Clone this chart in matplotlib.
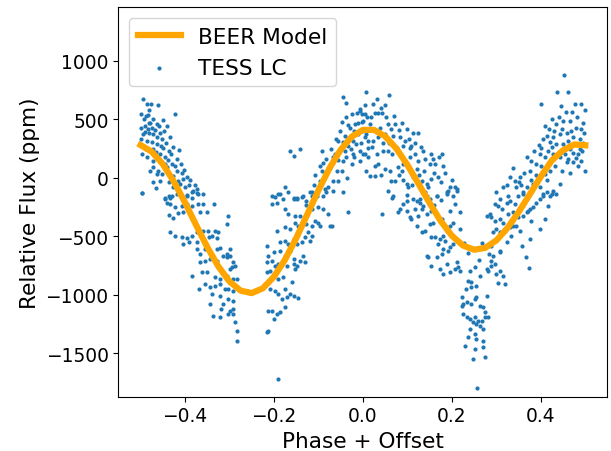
import numpy as np
import matplotlib
matplotlib.use('Agg')
import matplotlib.pyplot as plt

# BEER model
model_phase = [-0.500, -0.475, -0.450, -0.425, -0.400, -0.375, -0.350, -0.325, -0.300, -0.275,
               -0.250, -0.225, -0.200, -0.175, -0.150, -0.125, -0.100, -0.075, -0.050, -0.025,
               0.000, 0.025, 0.050, 0.075, 0.100, 0.125, 0.150, 0.175, 0.200, 0.225,
               0.250, 0.275, 0.300, 0.325, 0.350, 0.375, 0.400, 0.425, 0.450, 0.475, 0.500]
model_flux = [280, 224, 117, -33, -212, -405, -593, -759, -888, -966,
              -987, -946, -847, -700, -517, -313, -107, 83, 240, 352,
              410, 410, 355, 251, 110, -51, -217, -371, -496, -580,
              -616, -600, -536, -430, -294, -143, 10, 150, 235, 285, 278]

# TESS light curve points, read region by region
phase_a = [-0.495, -0.486, -0.476, -0.460, -0.480, -0.500, -0.488, -0.471, -0.450, -0.482,
           -0.490, -0.475, -0.464, -0.441, -0.422, -0.494, -0.482, -0.471, -0.456, -0.434,
           -0.486, -0.475, -0.464, -0.449, -0.437, -0.494, -0.497, -0.486, -0.471, -0.456,
           -0.445, -0.413, -0.471, -0.479, -0.460, -0.441, -0.430, -0.419, -0.407, -0.396,
           -0.452, -0.426, -0.497, -0.471, -0.456, -0.437, -0.426, -0.411, -0.400, -0.374,
           -0.370, -0.445, -0.434, -0.419, -0.396, -0.385]
flux_a = [672, 635, 630, 624, 578, 544, 530, 501, 493, 473,
          444, 430, 459, 444, 550, 373, 387, 373, 387, 345,
          316, 302, 288, 259, 231, 273, 202, 174, 145, 202,
          174, 236, 88, 60, 60, 88, 117, 60, 37, 3,
          31, 17, -131, -40, -26, -40, -83, -55, -83, -97,
          -140, -169, -169, -140, -155, -169]
phase_a2 = [-0.498, -0.492, -0.484, -0.478, -0.468, -0.462, -0.458, -0.452, -0.447, -0.443,
            -0.499, -0.491, -0.488, -0.483, -0.473, -0.466, -0.454, -0.446, -0.439, -0.432,
            -0.428, -0.423, -0.417, -0.409, -0.404, -0.402, -0.392, -0.388, -0.381, -0.377,
            -0.466, -0.462, -0.415]
flux_a2 = [430, 500, 540, 470, 410, 350, 440, 330, 400, 300,
           330, 390, 250, 420, 250, 220, 270, 120, 150, 200,
           260, 100, 160, 120, -10, 70, -60, -20, -110, -60,
           -90, 30, -30]

phase_b = [-0.497, -0.445, -0.437, -0.430, -0.396, -0.385, -0.374, -0.359,
           -0.441, -0.434, -0.422, -0.407, -0.396, -0.385, -0.370, -0.359, -0.334,
           -0.437, -0.426, -0.415, -0.404, -0.389, -0.381, -0.366, -0.351, -0.303,
           -0.434, -0.422, -0.407, -0.396, -0.385, -0.374, -0.359, -0.348, -0.333, -0.325, -0.306,
           -0.404, -0.392, -0.374, -0.347, -0.340, -0.329, -0.374, -0.366, -0.355, -0.344, -0.329,
           -0.321, -0.299, -0.314, -0.306, -0.299,
           -0.366, -0.355, -0.344, -0.329, -0.306, -0.291, -0.288, -0.299, -0.295,
           -0.385, -0.362, -0.351, -0.333, -0.321, -0.306, -0.291, -0.284,
           -0.355, -0.344, -0.333, -0.321, -0.310, -0.303, -0.291, -0.368,
           -0.340, -0.321, -0.314, -0.303, -0.291, -0.344,
           -0.318, -0.299, -0.291, -0.336, -0.321, -0.303, -0.291, -0.288, -0.284, -0.282]
flux_b = [-132, -183, -155, -160, -149, -126, -132, -140,
          -212, -226, -254, -240, -226, -240, -226, -226, -226,
          -320, -348, -303, -297, -311, -354, -297, -297, -326,
          -462, -502, -511, -519, -497, -468, -454, -454, -454, -468, -397,
          -568, -554, -554, -511, -497, -519, -611, -653, -611, -639, -611,
          -605, -611, -668, -653, -668,
          -725, -710, -696, -710, -682, -725, -753, -782, -767,
          -839, -810, -810, -853, -867, -839, -867, -867,
          -910, -938, -924, -910, -953, -953, -967, -953,
          -996, -1010, -1081, -1038, -1053, -1081,
          -1124, -1138, -1124, -1181, -1195, -1167, -1167, -1238, -1309, -1395]

phase_c = [-0.216, -0.213, -0.190,
           -0.213, -0.205, -0.201, -0.194, -0.186, -0.175,
           -0.209, -0.198, -0.190, -0.183, -0.171, -0.164, -0.156, -0.145,
           -0.216, -0.209, -0.201, -0.190, -0.179, -0.175, -0.160,
           -0.216, -0.205, -0.198, -0.190, -0.179, -0.171, -0.156, -0.153, -0.149,
           -0.213, -0.201, -0.186, -0.175, -0.164, -0.156, -0.142, -0.134, -0.130,
           -0.194, -0.186, -0.175, -0.168, -0.156, -0.149, -0.138, -0.130, -0.119, -0.115,
           -0.175, -0.164, -0.153, -0.145, -0.134, -0.127, -0.115, -0.108, -0.100, -0.097, -0.074, -0.123,
           -0.216,
           -0.205, -0.194, -0.175, -0.168, -0.153, -0.142, -0.130, -0.123, -0.115, -0.100, -0.089, -0.078, -0.070,
           -0.205, -0.190, -0.179, -0.168, -0.156, -0.149, -0.134, -0.127, -0.115, -0.104, -0.089, -0.082,
           -0.067, -0.044, -0.033]
flux_c = [-1323, -1309, -1723,
          -1138, -1138, -1209, -1167, -1152, -1110,
          -953, -967, -996, -1038, -1024, -996, -1010, -1030,
          -810, -796, -824, -867, -853, -953, -896,
          -725, -710, -753, -739, -710, -753, -739, -782, -753,
          -668, -639, -625, -668, -625, -696, -710, -668, -725,
          -454, -554, -539, -568, -525, -568, -554, -511, -539, -497,
          -425, -440, -383, -411, -383, -397, -411, -368, -383, -411, -411, -468,
          -582,
          -226, -212, -269, -311, -326, -326, -340, -297, -269, -254, -269, -311, -411,
          -155, -140, -183, -126, -177, -183, -155, -197, -126, -155, -155, -126,
          -112, -126, -297]

phase_d = [-0.198, -0.186, -0.175, -0.156, -0.149, -0.138, -0.115, -0.104, -0.085, -0.078, -0.097, -0.067, -0.059,
           -0.164, -0.156, -0.142, -0.093, -0.067, -0.044, -0.037, -0.025, -0.022, -0.007, 0.001, 0.012,
           -0.044, -0.037, -0.025, -0.014, -0.007, 0.008, -0.003, -0.029, -0.018, -0.052, -0.055,
           -0.044, -0.033, -0.022, -0.010, 0.001, 0.008, 0.012, -0.097, -0.093, -0.085, -0.055]
flux_d = [-168, -140, -83, -183, -175, -168, -155, -112, -97, -83, -26, -26, 60,
          231, 188, 245, 231, 174, 145, 174, 117, 202, 145, 202, 259,
          692, 644, 544, 558, 573, 730, 544, 430, 459, 402, 316,
          302, 273, 316, 373, 416, 402, 316, 102, 60, 31, -26]
phase_d2 = [-0.090, -0.082, -0.075, -0.071, -0.063, -0.060, -0.057, -0.050, -0.048, -0.041,
            -0.039, -0.034, -0.031, -0.027, -0.020, -0.016, -0.012, -0.005, -0.002, 0.004,
            0.010, -0.047, -0.040, -0.035, -0.019, -0.110, -0.120, -0.128, -0.107]
flux_d2 = [130, 160, 80, 250, 200, 330, 150, 250, 480, 360,
           520, 450, 330, 250, 400, 290, 470, 300, 480, 350,
           520, 60, 230, 0, 180, -60, -120, -230, 20]

phase_e = [0.023, 0.032, 0.050, 0.059, 0.027, 0.035, 0.044, 0.004, -0.007, 0.001, 0.016, 0.038, 0.057, 0.072,
           -0.003, 0.008, 0.023, 0.035, 0.050, 0.068, 0.083, 0.094, 0.113,
           -0.007, 0.004, 0.012, 0.031, 0.046, 0.057, 0.065, 0.076, 0.091, 0.106, 0.109,
           0.035, 0.050, 0.061, 0.079, 0.091, 0.106, 0.124, 0.139, 0.158, 0.177, 0.181,
           0.016, 0.027, 0.057, 0.068, 0.072, 0.087, 0.098, 0.102, 0.113, 0.121, 0.132, 0.143,
           0.147, 0.169, 0.196, 0.207, 0.211, 0.188, 0.166, 0.143, 0.128, 0.113, 0.098]
flux_e = [630, 673, 624, 710, 558, 553, 558, 550, 587, 487, 459, 430, 459, 459,
          402, 373, 316, 345, 373, 359, 345, 316, 382,
          231, 202, 174, 202, 231, 231, 202, 259, 273, 259, 273,
          117, 74, 60, 88, 117, 174, 145, 160, 160, 202, 102,
          17, 17, -112, -155, -26, 60, -55, -83, 3, 74, -26, -55,
          -83, 3, -83, -83, -112, -140, -155, -155, -183, -183, -197]
phase_e2 = [0.005, 0.018, 0.040, 0.052, 0.064, 0.070, 0.080, 0.087, 0.100, 0.104,
            0.118, 0.124, 0.130, 0.136, 0.150, 0.154, 0.162, 0.170, 0.046, 0.020,
            0.058, 0.085, 0.096, 0.117, 0.027, 0.008, 0.040, 0.063, 0.080, 0.090,
            0.110, 0.125, 0.137, 0.152, 0.160, 0.175, 0.185, 0.200, 0.192, 0.203]
flux_e2 = [620, 520, 600, 520, 420, 530, 410, 470, 420, 330,
           300, 380, 260, 230, 120, 200, 120, 180, 300, 260,
           300, 190, 120, 200, 100, 60, 20, -30, 20, -20,
           -60, 20, 60, -10, 40, -40, 40, -20, -110, -160]

phase_f = [0.401, 0.437, 0.460, 0.452, 0.446, 0.424, 0.435, 0.450, 0.465, 0.476, 0.491, 0.499, 0.491, 0.480, 0.497,
           0.409, 0.413, 0.428, 0.443, 0.458, 0.473, 0.488, 0.420, 0.435, 0.450, 0.461, 0.473, 0.484, 0.491, 0.499,
           0.401, 0.416, 0.428, 0.443, 0.458, 0.473, 0.484, 0.330, 0.342, 0.353, 0.368, 0.379, 0.390, 0.401,
           0.409, 0.420, 0.443, 0.465,
           0.300, 0.308, 0.327, 0.345, 0.360, 0.368, 0.383, 0.398, 0.405, 0.420, 0.428, 0.435]
flux_f = [630, 730, 730, 878, 615, 501, 459, 487, 487, 630, 630, 578, 416, 430, 387,
          444, 359, 345, 373, 387, 345, 330, 302, 288, 288, 316, 216, 202, 145, 60,
          259, 231, 202, 174, 131, 131, 102, 3, -26, 3, 174, 145, 117, 102,
          31, 60, -55, 45,
          -126, -183, -155, -83, -126, -83, -55, -83, -140, -155, -112, -140]
phase_f2 = [0.470, 0.482, 0.494, 0.457, 0.440, 0.430, 0.418, 0.405, 0.395, 0.385,
            0.375, 0.362, 0.350, 0.338, 0.325, 0.315, 0.455, 0.466, 0.478, 0.487,
            0.495, 0.468, 0.448, 0.425, 0.410, 0.398, 0.390, 0.378, 0.356, 0.413,
            0.432, 0.447, 0.462, 0.480, 0.493]
flux_f2 = [560, 520, 470, 560, 520, 400, 420, 330, 280, 230,
           60, 40, -40, 80, -60, -80, 200, 250, 290, 250,
           300, 400, 420, 260, 180, 200, 20, -20, -60, -20,
           100, 60, 160, 170, 230]

phase_g = [0.066, 0.044,
           0.091, 0.083, 0.079, 0.098, 0.106, 0.117, 0.124, 0.132, 0.143, 0.154,
           0.166, 0.128, 0.139, 0.151, 0.188, 0.211, 0.196, 0.207, 0.218, 0.218,
           0.177, 0.184, 0.196, 0.203, 0.158, 0.151, 0.139, 0.132, 0.121, 0.109,
           0.154, 0.162, 0.173, 0.184, 0.196, 0.203, 0.181, 0.192, 0.177, 0.169, 0.188, 0.181,
           0.143, 0.147, 0.166, 0.154, 0.173, 0.188, 0.211, 0.214, 0.207, 0.218, 0.181, 0.196,
           0.240, 0.252, 0.237, 0.244, 0.255, 0.244, 0.232, 0.263, 0.278, 0.282,
           0.289, 0.297, 0.308, 0.315, 0.319, 0.300, 0.304, 0.293, 0.289, 0.308,
           0.278, 0.255, 0.252, 0.222, 0.225, 0.233, 0.222, 0.244, 0.263, 0.270,
           0.274, 0.225, 0.233, 0.240, 0.252, 0.259, 0.267, 0.274, 0.282,
           0.248, 0.255, 0.263, 0.240, 0.270, 0.237, 0.252, 0.255, 0.270, 0.229,
           0.252, 0.270, 0.248, 0.274, 0.257]
flux_g = [-169, -311,
          -226, -269, -297, -283, -340, -269, -326, -269, -311, -283,
          -155, -212, -126, -183, -126, -98, -283, -226, -297, -440,
          -354, -411, -411, -383, -383, -397, -454, -468, -411, -354,
          -511, -511, -525, -539, -596, -568, -611, -625, -653, -568, -454, -497,
          -668, -682, -682, -753, -782, -739, -725, -767, -782, -796, -824, -810,
          -796, -767, -881, -890, -924, -938, -953, -839, -782, -796,
          -753, -739, -796, -839, -910, -824, -904, -668, -710, -639,
          -1010, -1024, -1038, -1024, -1081, -1067, -1095, -1081, -1095, -1110,
          -1152, -1167, -1195, -1209, -1195, -1224, -1224, -1195, -1195,
          -1238, -1252, -1266, -1295, -1295, -1366, -1338, -1380, -1395, -1437,
          -1466, -1452, -1551, -1537, -1799]
phase_g2 = [0.278, 0.285, 0.289, 0.297, 0.308, 0.315, 0.327, 0.338, 0.349, 0.360,
            0.368, 0.375, 0.383, 0.390, 0.398, 0.405, 0.413, 0.424,
            0.297, 0.304, 0.312, 0.323, 0.330, 0.342, 0.349, 0.360, 0.372, 0.379,
            0.300, 0.293, 0.308, 0.319, 0.330, 0.338, 0.345, 0.353, 0.334, 0.323,
            0.308, 0.289, 0.357, 0.375, 0.398, 0.409, 0.416, 0.353, 0.366, 0.373,
            0.121, 0.135, 0.160, 0.175, 0.100,
            0.228, 0.236, 0.246, 0.262, 0.268, 0.283]
flux_g2 = [-326, -311, -340, -368, -354, -383, -311, -297, -340, -326,
           -297, -269, -254, -212, -183, -155, -126, -140,
           -226, -240, -269, -212, -197, -226, -155, -140, -283, -368,
           -440, -468, -468, -454, -425, -411, -411, -454, -497, -554,
           -625, -582, -582, -525, -440, -354, -240, -269, -682, -773,
           -200, -240, -230, -190, -150,
           -560, -640, -600, -700, -560, -650]

tess_phase = np.concatenate([phase_a, phase_a2, phase_b, phase_c, phase_d, phase_d2,
                             phase_e, phase_e2, phase_f, phase_f2, phase_g, phase_g2])
tess_flux = np.concatenate([flux_a, flux_a2, flux_b, flux_c, flux_d, flux_d2,
                            flux_e, flux_e2, flux_f, flux_f2, flux_g, flux_g2])

fig = plt.figure(figsize=(6.11, 4.52), dpi=100)
ax = fig.add_axes([0.1936, 0.1201, 0.7993, 0.8615])

ax.plot(model_phase, model_flux, color='orange', lw=4.5, label='BEER Model', zorder=3)
ax.scatter(tess_phase, tess_flux, s=9, color='C0', linewidths=0, label='TESS LC', zorder=2)

ax.set_xlim(-0.55, 0.548)
ax.set_ylim(-1874, 1459)
ax.set_xticks([-0.4, -0.2, 0.0, 0.2, 0.4])
ax.set_yticks([-1500, -1000, -500, 0, 500, 1000])
ax.tick_params(labelsize=13.4)
ax.set_xlabel('Phase + Offset', fontsize=15.6)
ax.set_ylabel('Relative Flux (ppm)', fontsize=15.6)
ax.legend(loc='upper left', fontsize=15.6)

fig.savefig('out.png', dpi=100)
